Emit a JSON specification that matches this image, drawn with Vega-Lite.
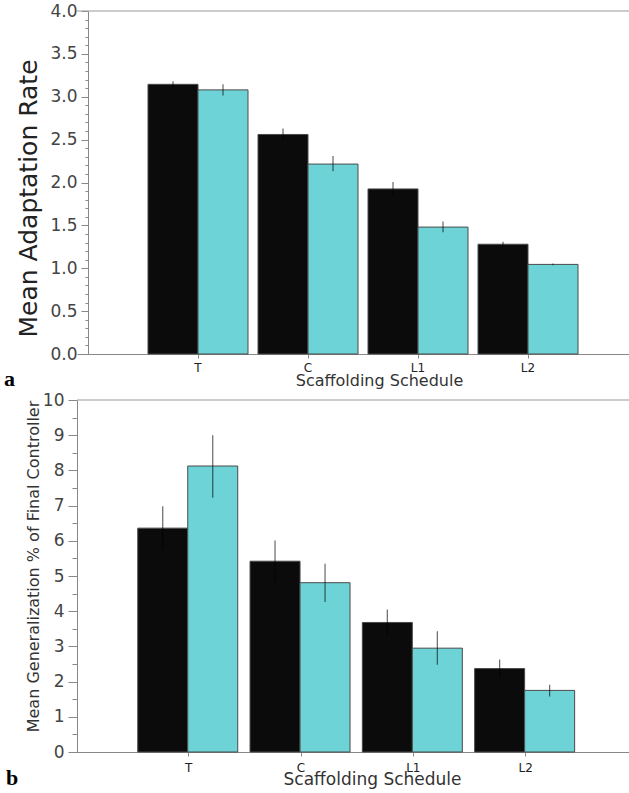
{
  "$schema": "https://vega.github.io/schema/vega-lite/v6.json",
  "autosize": {"type": "pad"},
  "padding": {"left": 4, "top": 2, "right": 0, "bottom": 0},
  "background": "white",
  "bounds": "flush",
  "spacing": 46,
  "config": {"view": {"stroke": null}, "font": "DejaVu Sans", "axisY": {"labelOverlap": false}},
  "datasets": {
    "adapt": [
      {"schedule": "T", "group": "Series 1", "mean": 3.145, "lo": 3.115, "hi": 3.18},
      {"schedule": "T", "group": "Series 2", "mean": 3.08, "lo": 3.015, "hi": 3.145},
      {"schedule": "C", "group": "Series 1", "mean": 2.56, "lo": 2.49, "hi": 2.63},
      {"schedule": "C", "group": "Series 2", "mean": 2.215, "lo": 2.13, "hi": 2.31},
      {"schedule": "L1", "group": "Series 1", "mean": 1.925, "lo": 1.845, "hi": 2.005},
      {"schedule": "L1", "group": "Series 2", "mean": 1.48, "lo": 1.42, "hi": 1.545},
      {"schedule": "L2", "group": "Series 1", "mean": 1.28, "lo": 1.25, "hi": 1.31},
      {"schedule": "L2", "group": "Series 2", "mean": 1.045, "lo": 1.035, "hi": 1.055}
    ],
    "gen": [
      {"schedule": "T", "group": "Series 1", "mean": 6.36, "lo": 5.74, "hi": 6.98},
      {"schedule": "T", "group": "Series 2", "mean": 8.125, "lo": 7.22, "hi": 9.0},
      {"schedule": "C", "group": "Series 1", "mean": 5.42, "lo": 4.83, "hi": 6.01},
      {"schedule": "C", "group": "Series 2", "mean": 4.81, "lo": 4.26, "hi": 5.35},
      {"schedule": "L1", "group": "Series 1", "mean": 3.68, "lo": 3.31, "hi": 4.05},
      {"schedule": "L1", "group": "Series 2", "mean": 2.95, "lo": 2.48, "hi": 3.43},
      {"schedule": "L2", "group": "Series 1", "mean": 2.37, "lo": 2.11, "hi": 2.63},
      {"schedule": "L2", "group": "Series 2", "mean": 1.75, "lo": 1.58, "hi": 1.91}
    ]
  },
  "vconcat": [
    {
      "width": 552,
      "height": 343,
      "title": {"text": "a", "orient": "bottom", "anchor": "start", "frame": "group", "dx": -73, "offset": -2, "baseline": "alphabetic", "font": "Liberation Serif", "fontSize": 22, "fontWeight": "bold", "color": "#000"},
      "layer": [
        {
          "data": {"name": "adapt"},
          "mark": {"type": "bar", "stroke": "#4a4a4a", "strokeWidth": 1},
          "encoding": {
            "x": {"field": "schedule", "type": "nominal", "sort": ["T", "C", "L1", "L2"],
              "scale": {"paddingInner": 0.0909, "paddingOuter": 0.5545, "align": 0.582},
              "axis": {"title": "Scaffolding Schedule", "titleFontSize": 16, "titleFontWeight": "normal", "titleColor": "#333", "titlePadding": -1, "titleX": 302,
                "labelAngle": 0, "labelFontSize": 12, "labelColor": "#222", "labelPadding": 4, "tickSize": 4, "tickColor": "#888", "domainColor": "#888"}},
            "xOffset": {"field": "group", "type": "nominal", "scale": {"paddingInner": 0, "paddingOuter": 0}},
            "y": {"field": "mean", "type": "quantitative", "scale": {"domain": [0, 4], "nice": false},
              "axis": {"title": "Mean Adaptation Rate", "titleFontSize": 25, "titleFontWeight": "normal", "titleColor": "#222", "titlePadding": 8, "titleY": 187,
                "values": [0,0.1,0.2,0.3,0.4,0.5,0.6,0.7,0.8,0.9,1,1.1,1.2,1.3,1.4,1.5,1.6,1.7,1.8,1.9,2,2.1,2.2,2.3,2.4,2.5,2.6,2.7,2.8,2.9,3,3.1,3.2,3.3,3.4,3.5,3.6,3.7,3.8,3.9,4],
                "labelExpr": "abs(datum.value*2 - round(datum.value*2)) < 0.001 ? format(datum.value, '.1f') : ''",
                "labelFontSize": 17, "labelColor": "#444", "labelPadding": 4, "labelOverlap": false,
                "tickSize": {"condition": {"test": "abs(datum.value*2 - round(datum.value*2)) < 0.001", "value": 7}, "value": 3},
                "tickColor": "#888", "domainColor": "#888", "grid": false, "offset": -11}},
            "color": {"field": "group", "type": "nominal", "scale": {"domain": ["Series 1", "Series 2"], "range": ["#0b0b0b", "#6dd3d6"]}, "legend": null}
          }
        },
        {
          "data": {"name": "adapt"},
          "mark": {"type": "rule", "color": "#000", "opacity": 0.6, "strokeWidth": 1.2},
          "encoding": {
            "x": {"field": "schedule", "type": "nominal", "sort": ["T", "C", "L1", "L2"]},
            "xOffset": {"field": "group", "type": "nominal"},
            "y": {"field": "lo", "type": "quantitative",
              "axis": {"title": "Mean Adaptation Rate", "titleFontSize": 25, "titleFontWeight": "normal", "titleColor": "#222", "titlePadding": 8, "titleY": 187,
                "values": [0,0.1,0.2,0.3,0.4,0.5,0.6,0.7,0.8,0.9,1,1.1,1.2,1.3,1.4,1.5,1.6,1.7,1.8,1.9,2,2.1,2.2,2.3,2.4,2.5,2.6,2.7,2.8,2.9,3,3.1,3.2,3.3,3.4,3.5,3.6,3.7,3.8,3.9,4],
                "labelExpr": "abs(datum.value*2 - round(datum.value*2)) < 0.001 ? format(datum.value, '.1f') : ''",
                "labelFontSize": 17, "labelColor": "#444", "labelPadding": 4, "labelOverlap": false,
                "tickSize": {"condition": {"test": "abs(datum.value*2 - round(datum.value*2)) < 0.001", "value": 7}, "value": 3},
                "tickColor": "#888", "domainColor": "#888", "grid": false, "offset": -11}},
            "y2": {"field": "hi"}
          }
        },
        {
          "data": {"values": [{}]},
          "mark": {"type": "rule", "color": "#999", "strokeWidth": 1},
          "encoding": {"y": {"datum": 4, "type": "quantitative",
              "axis": {"title": "Mean Adaptation Rate", "titleFontSize": 25, "titleFontWeight": "normal", "titleColor": "#222", "titlePadding": 8, "titleY": 187,
                "values": [0,0.1,0.2,0.3,0.4,0.5,0.6,0.7,0.8,0.9,1,1.1,1.2,1.3,1.4,1.5,1.6,1.7,1.8,1.9,2,2.1,2.2,2.3,2.4,2.5,2.6,2.7,2.8,2.9,3,3.1,3.2,3.3,3.4,3.5,3.6,3.7,3.8,3.9,4],
                "labelExpr": "abs(datum.value*2 - round(datum.value*2)) < 0.001 ? format(datum.value, '.1f') : ''",
                "labelFontSize": 17, "labelColor": "#444", "labelPadding": 4, "labelOverlap": false,
                "tickSize": {"condition": {"test": "abs(datum.value*2 - round(datum.value*2)) < 0.001", "value": 7}, "value": 3},
                "tickColor": "#888", "domainColor": "#888", "grid": false, "offset": -11}}}
        }
      ]
    },
    {
      "width": 552,
      "height": 352,
      "title": {"text": "b", "orient": "bottom", "anchor": "start", "frame": "group", "dx": -71, "offset": -2, "baseline": "alphabetic", "font": "Liberation Serif", "fontSize": 22, "fontWeight": "bold", "color": "#000"},
      "layer": [
        {
          "data": {"name": "gen"},
          "mark": {"type": "bar", "stroke": "#4a4a4a", "strokeWidth": 1},
          "encoding": {
            "x": {"field": "schedule", "type": "nominal", "sort": ["T", "C", "L1", "L2"],
              "scale": {"paddingInner": 0.0917, "paddingOuter": 0.5036, "align": 0.537},
              "axis": {"title": "Scaffolding Schedule", "titleFontSize": 17, "titleFontWeight": "normal", "titleColor": "#333", "titlePadding": -2, "titleX": 295,
                "labelAngle": 0, "labelFontSize": 12, "labelColor": "#222", "labelPadding": 6, "tickSize": 4, "tickColor": "#888", "domainColor": "#888"}},
            "xOffset": {"field": "group", "type": "nominal", "scale": {"paddingInner": 0, "paddingOuter": 0}},
            "y": {"field": "mean", "type": "quantitative", "scale": {"domain": [0, 10], "nice": false},
              "axis": {"title": "Mean Generalization % of Final Controller", "titleFontSize": 16, "titleFontWeight": "normal", "titleColor": "#333", "titlePadding": 1, "titleY": 166,
                "values": [0,0.5,1,1.5,2,2.5,3,3.5,4,4.5,5,5.5,6,6.5,7,7.5,8,8.5,9,9.5,10],
                "labelExpr": "abs(datum.value - round(datum.value)) < 0.001 ? format(datum.value, 'd') : ''",
                "labelFontSize": 17, "labelColor": "#444", "labelPadding": 4, "labelOverlap": false,
                "tickSize": {"condition": {"test": "abs(datum.value - round(datum.value)) < 0.001", "value": 9}, "value": 5},
                "tickColor": "#888", "domainColor": "#888", "grid": false}},
            "color": {"field": "group", "type": "nominal", "scale": {"domain": ["Series 1", "Series 2"], "range": ["#0b0b0b", "#6dd3d6"]}, "legend": null}
          }
        },
        {
          "data": {"name": "gen"},
          "mark": {"type": "rule", "color": "#000", "opacity": 0.6, "strokeWidth": 1.2},
          "encoding": {
            "x": {"field": "schedule", "type": "nominal", "sort": ["T", "C", "L1", "L2"]},
            "xOffset": {"field": "group", "type": "nominal"},
            "y": {"field": "lo", "type": "quantitative",
              "axis": {"title": "Mean Generalization % of Final Controller", "titleFontSize": 16, "titleFontWeight": "normal", "titleColor": "#333", "titlePadding": 1, "titleY": 166,
                "values": [0,0.5,1,1.5,2,2.5,3,3.5,4,4.5,5,5.5,6,6.5,7,7.5,8,8.5,9,9.5,10],
                "labelExpr": "abs(datum.value - round(datum.value)) < 0.001 ? format(datum.value, 'd') : ''",
                "labelFontSize": 17, "labelColor": "#444", "labelPadding": 4, "labelOverlap": false,
                "tickSize": {"condition": {"test": "abs(datum.value - round(datum.value)) < 0.001", "value": 9}, "value": 5},
                "tickColor": "#888", "domainColor": "#888", "grid": false}},
            "y2": {"field": "hi"}
          }
        },
        {
          "data": {"values": [{}]},
          "mark": {"type": "rule", "color": "#999", "strokeWidth": 1},
          "encoding": {"y": {"datum": 10, "type": "quantitative",
              "axis": {"title": "Mean Generalization % of Final Controller", "titleFontSize": 16, "titleFontWeight": "normal", "titleColor": "#333", "titlePadding": 1, "titleY": 166,
                "values": [0,0.5,1,1.5,2,2.5,3,3.5,4,4.5,5,5.5,6,6.5,7,7.5,8,8.5,9,9.5,10],
                "labelExpr": "abs(datum.value - round(datum.value)) < 0.001 ? format(datum.value, 'd') : ''",
                "labelFontSize": 17, "labelColor": "#444", "labelPadding": 4, "labelOverlap": false,
                "tickSize": {"condition": {"test": "abs(datum.value - round(datum.value)) < 0.001", "value": 9}, "value": 5},
                "tickColor": "#888", "domainColor": "#888", "grid": false}}}
        }
      ]
    }
  ]
}
